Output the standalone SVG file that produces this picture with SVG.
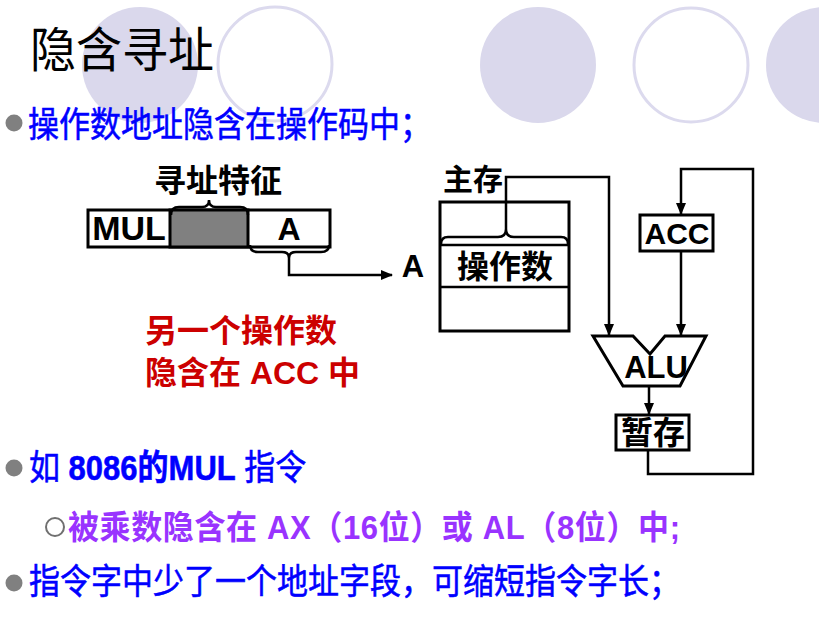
<svg xmlns="http://www.w3.org/2000/svg" width="819" height="620" viewBox="0 0 819 620">
<defs>
<style>
.cjk{font-family:"Liberation Sans","Noto Sans CJK SC",sans-serif}
.lbl{font-family:"Liberation Sans","Noto Sans CJK SC",sans-serif;font-weight:bold;fill:#000}
.box{fill:#fff;stroke:#000;stroke-width:3}
.ln{fill:none;stroke:#000;stroke-width:2.5}
.blue{fill:#0000ff;font-size:31px;stroke:#0000ff;stroke-width:0.5}
.bdot{fill:#808080}
.bgc{fill:#dad8ec}
.bgo{fill:none;stroke:#dcdaee;stroke-width:3}
.red{fill:#cc0000;font-size:32px}
</style>
<marker id="arr" markerWidth="12" markerHeight="10" refX="11" refY="5" orient="auto" markerUnits="userSpaceOnUse">
<path d="M0,0 L12,5 L0,10 Z" fill="#000"/>
</marker>
</defs>
<rect width="819" height="620" fill="#fff"/>
<g id="background">
<circle class="bgc" cx="140" cy="65" r="58"/>
<circle class="bgo" cx="275" cy="64" r="57"/>
<circle class="bgc" cx="538" cy="65" r="58"/>
<circle class="bgo" cx="691" cy="65" r="57"/>
<circle class="bgc" cx="824" cy="65" r="58"/>
</g>
<g id="title"><text class="cjk" transform="translate(30,67) scale(1,1.05)" font-size="46" fill="#000">隐含寻址</text></g>
<g id="bullet1">
<circle class="bdot" cx="14" cy="123" r="8.5"/>
<text class="cjk blue" transform="translate(28,137) scale(1,1.12)">操作数地址隐含在操作码中；</text>
</g>
<g id="instruction">
<rect class="box" x="88" y="210" width="242" height="37"/>
<rect x="170" y="210" width="78" height="37" fill="#808080" stroke="#000" stroke-width="3"/>
<text class="lbl" x="129" y="240" font-size="34" text-anchor="middle">MUL</text>
<text class="lbl" x="289" y="240" font-size="32" text-anchor="middle">A</text>
<path class="ln" d="M171,215 Q171,207 179,207 L202,207 Q209,207 209,200 Q209,207 216,207 L240,207 Q248,207 248,215"/>
<path class="ln" d="M250,245 Q250,252 258,252 L282,252 Q289,252 289,258 Q289,252 296,252 L321,252 Q329,252 329,245"/>
<text class="lbl" x="218" y="192" font-size="32" text-anchor="middle">寻址特征</text>
</g>
<g id="addrA"><text class="lbl" x="413" y="277" font-size="31" text-anchor="middle">A</text></g>
<g id="note">
<text class="lbl red" x="145" y="342" style="fill:#cc0000">另一个操作数</text>
<text class="lbl red" x="145" y="384" style="fill:#cc0000">隐含在 ACC 中</text>
</g>
<g id="memory">
<rect class="box" x="440" y="202" width="129" height="129"/>
<line class="ln" x1="440" y1="245" x2="569" y2="245" stroke-width="3"/>
<line class="ln" x1="440" y1="287" x2="569" y2="287" stroke-width="3"/>
<path class="ln" d="M441,244 Q441,237 448,237 L498,237 Q506,237 506,229 Q506,237 514,237 L561,237 Q568,237 568,244"/>
<text class="lbl" x="473" y="190" font-size="30" text-anchor="middle">主存</text>
<text class="lbl" x="505" y="278" font-size="32" text-anchor="middle">操作数</text>
</g>
<g id="acc">
<rect class="box" x="640" y="215" width="73" height="36"/>
<text class="lbl" x="677" y="244" font-size="30" text-anchor="middle">ACC</text>
</g>
<g id="alu">
<polygon points="593,336 633,336 650,354 665,336 706,336 680,386 623,386" fill="#fff" stroke="#000" stroke-width="3" stroke-linejoin="miter"/>
<text class="lbl" x="656" y="378" font-size="31" text-anchor="middle">ALU</text>
</g>
<g id="temp">
<rect class="box" x="616" y="415" width="73" height="35"/>
<text class="lbl" x="653" y="444" font-size="32" text-anchor="middle">暂存</text>
</g>
<g id="connectors">
<path class="ln" d="M289,258 V275 H392" marker-end="url(#arr)"/>
<path class="ln" d="M506,229 V177 H609 V335" marker-end="url(#arr)"/>
<path class="ln" d="M681,251 V335" marker-end="url(#arr)"/>
<path class="ln" d="M649,386 V414" marker-end="url(#arr)"/>
<path class="ln" d="M648,450 V474 H753 V169 H681 V214" marker-end="url(#arr)"/>
</g>
<g id="bullet2">
<circle class="bdot" cx="14" cy="468" r="8.5"/>
<text class="cjk blue" transform="translate(29,480) scale(1,1.12)">如 <tspan font-weight="bold">8086的MUL</tspan> 指令</text>
</g>
<g id="sub">
<circle cx="55" cy="527" r="9" fill="#fff" stroke="#707070" stroke-width="2"/>
<text class="cjk" transform="translate(68,539) scale(1,1.08)" font-size="31" font-weight="bold" fill="#9933ff" textLength="612">被乘数隐含在 AX（16位）或 AL（8位）中;</text>
</g>
<g id="bullet3">
<circle class="bdot" cx="14" cy="583" r="8.5"/>
<text class="cjk blue" transform="translate(29,594) scale(1,1.12)">指令字中少了一个地址字段，可缩短指令字长；</text>
</g>
</svg>
